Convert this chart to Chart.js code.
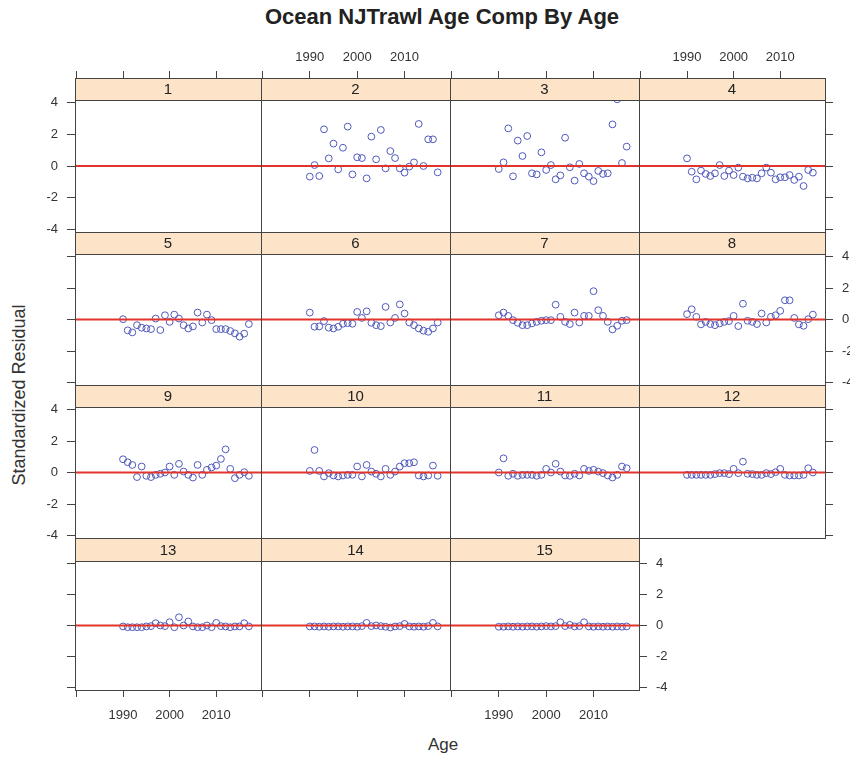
<!DOCTYPE html>
<html>
<head>
<meta charset="utf-8">
<script src="https://cdn.jsdelivr.net/npm/chart.js@4.4.1/dist/chart.umd.min.js"></script>
<style>
body{margin:0;background:#fff;}
#wrap{position:relative;width:850px;height:759px;overflow:hidden;font-family:"Liberation Sans",Arial,sans-serif;color:#222;}
#wrap canvas{position:absolute;left:0;top:0;}
#title{position:absolute;left:192px;width:500px;top:4px;text-align:center;font-weight:bold;font-size:22px;}
#ylab{position:absolute;left:19px;top:395px;transform:translate(-50%,-50%) rotate(-90deg);white-space:nowrap;font-size:18px;color:#333;}
#xlab{position:absolute;left:393px;width:100px;top:735px;text-align:center;font-size:17px;color:#333;}
</style>
</head>
<body>
<div id="wrap">
<div id="title">Ocean NJTrawl Age Comp By Age</div>
<div id="ylab">Standardized Residual</div>
<div id="xlab">Age</div>
</div>
<script>
// data
const years = [1990,1991,1992,1993,1994,1995,1996,1997,1998,1999,2000,2001,2002,2003,
2004,2005,2006,2007,2008,2009,2010,2011,2012,2013,2014,2015,2016,2017];

const ages = ['1','2','3','4','5','6','7','8','9','10','11','12','13','14','15'];

const resid1 = [];
const resid2 = [-0.67,0.06,-0.63,2.31,0.48,1.41,-0.21,1.15,2.48,-0.53,0.55,0.5,-0.78,1.85,0.42,2.27,-0.15,0.94,0.5,-0.15,-0.42,-0.04,0.23,2.65,0.0,1.68,1.68,-0.4];
const resid3 = [-0.19,0.23,2.37,-0.65,1.6,0.63,1.89,-0.46,-0.53,0.86,-0.25,0.06,-0.84,-0.59,1.78,-0.08,-0.92,0.13,-0.46,-0.67,-0.95,-0.31,-0.5,-0.46,2.62,4.2,0.19,1.22];
const resid4 = [0.48,-0.36,-0.84,-0.29,-0.5,-0.63,-0.46,0.06,-0.63,-0.29,-0.57,-0.1,-0.67,-0.78,-0.74,-0.78,-0.46,-0.1,-0.42,-0.84,-0.71,-0.71,-0.57,-0.88,-0.67,-1.26,-0.25,-0.42];
const resid5 = [0.02,-0.69,-0.82,-0.36,-0.52,-0.57,-0.61,0.06,-0.67,0.27,-0.15,0.31,0.06,-0.36,-0.57,-0.44,0.44,-0.19,0.31,-0.04,-0.61,-0.61,-0.61,-0.73,-0.88,-1.09,-0.9,-0.29];
const resid6 = [0.44,-0.46,-0.44,-0.1,-0.52,-0.57,-0.46,-0.27,-0.23,-0.27,0.48,0.1,0.52,-0.21,-0.36,-0.42,0.8,-0.19,0.1,0.96,0.38,-0.19,-0.36,-0.57,-0.71,-0.78,-0.57,-0.19];
const resid7 = [0.27,0.44,0.23,-0.04,-0.21,-0.36,-0.36,-0.25,-0.15,-0.08,-0.04,-0.04,0.94,0.17,-0.15,-0.29,0.44,-0.19,0.23,0.23,1.8,0.59,0.23,-0.15,-0.63,-0.4,-0.08,-0.04];
const resid8 = [0.34,0.65,0.17,-0.31,-0.15,-0.29,-0.36,-0.25,-0.15,-0.1,0.23,-0.42,1.0,-0.08,-0.15,-0.29,0.38,-0.19,0.17,0.27,0.55,1.22,1.22,0.1,-0.31,-0.4,0.02,0.31];
const resid9 = [0.84,0.65,0.48,-0.29,0.38,-0.21,-0.29,-0.15,-0.08,0.0,0.38,-0.15,0.55,0.06,-0.15,-0.32,0.48,-0.15,0.17,0.32,0.44,0.86,1.47,0.23,-0.36,-0.15,0.02,-0.21];
const resid10 = [0.1,1.43,0.1,-0.25,-0.04,-0.19,-0.25,-0.19,-0.15,-0.15,0.38,-0.25,0.48,0.06,-0.08,-0.25,0.23,-0.15,0.06,0.38,0.59,0.59,0.65,-0.19,-0.25,-0.19,0.44,-0.21];
const resid11 = [0.0,0.9,-0.21,-0.08,-0.21,-0.15,-0.15,-0.15,-0.21,-0.15,0.23,0.0,0.55,0.06,-0.19,-0.21,-0.08,-0.19,0.23,0.1,0.17,0.06,-0.04,-0.19,-0.32,-0.15,0.38,0.27];
const resid12 = [-0.15,-0.15,-0.15,-0.15,-0.15,-0.15,-0.1,-0.04,-0.04,-0.1,0.23,-0.04,0.69,-0.08,-0.1,-0.15,-0.15,-0.04,-0.1,0.02,0.23,-0.15,-0.19,-0.19,-0.19,-0.15,0.27,0.0];
const resid13 = [-0.06,-0.11,-0.11,-0.11,-0.11,-0.06,-0.04,0.15,0.0,-0.04,0.21,-0.11,0.53,0.0,0.26,-0.06,-0.11,-0.11,0.0,-0.11,0.17,-0.04,-0.06,-0.11,-0.06,-0.06,0.15,-0.06];
const resid14 = [-0.06,-0.06,-0.08,-0.06,-0.08,-0.06,-0.06,-0.08,-0.06,-0.06,-0.08,-0.04,0.17,-0.04,0.0,-0.04,-0.08,-0.13,-0.06,-0.04,0.1,-0.06,-0.08,-0.06,-0.08,-0.04,0.17,-0.06];
const resid15 = [-0.08,-0.08,-0.06,-0.08,-0.06,-0.08,-0.06,-0.06,-0.08,-0.06,-0.04,-0.06,-0.04,0.21,-0.04,0.04,-0.06,-0.04,0.21,-0.06,-0.08,-0.06,-0.08,-0.06,-0.08,-0.06,-0.08,-0.06];

const residuals = [resid1,resid2,resid3,resid4,resid5,resid6,resid7,resid8,
resid9,resid10,resid11,resid12,resid13,resid14,resid15];

const yTicks = [-4,-2,0,2,4];
const xTicks = [1980,1990,2000,2010];
const xTickLabels = [1990,2000,2010];

// layout of the lattice (pixels)
const pageW = 850, pageH = 759;
const colEdges = [75,261,450,639,825];
const rowTops = [78,232,385,538];
const stripHeights = [22,22,22,23];
const rowBottoms = [232,385,538,690];
const xMin = 1979.7, xMax = 2019.6;

Chart.defaults.font.family = '"Liberation Sans", Arial, sans-serif';
Chart.defaults.color = '#333';

const latticePlugin = {
id:'lattice',
afterDatasetsDraw(chart, args, opts){
const ctx = chart.ctx;
const a = chart.chartArea;
const sh = opts.stripH;
ctx.save();
ctx.fillStyle = '#fde3c8';
ctx.fillRect(a.left, a.top, a.right - a.left, sh);
ctx.strokeStyle = '#444';
ctx.lineWidth = 1;
ctx.strokeRect(a.left + 0.5, a.top + 0.5, a.right - a.left, sh);
ctx.strokeRect(a.left + 0.5, a.top + 0.5, a.right - a.left, a.bottom - a.top);
ctx.fillStyle = '#222';
ctx.font = '15px "Liberation Sans", Arial, sans-serif';
ctx.textAlign = 'center';
ctx.textBaseline = 'middle';
ctx.fillText(opts.label, (a.left + a.right) / 2, a.top + sh / 2 + 1);
ctx.restore();
}
};

function makePanel(i){

const col = i % 4;
const row = Math.floor(i / 4);
const x0 = colEdges[col], x1 = colEdges[col + 1];
const top = rowTops[row], bottom = rowBottoms[row];
const sh = stripHeights[row];
const panelH = bottom - top - sh;
const half = 4 * (panelH / 2) / (panelH / 2 - 2.5);
const yMax = half + sh * 2 * half / panelH;

const yLeft = col === 0;
const yRight = col === 3 || (row === 3 && col === 2);
const xTop = row === 0;
const xBottom = row === 3;
const rightW = col === 3 ? 25 : 40;

const canvas = document.createElement('canvas');
canvas.width = pageW;
canvas.height = pageH;
document.getElementById('wrap').appendChild(canvas);

const points = years.map((yr, k) => ({x: yr, y: residuals[i][k]})).filter(p => p.y !== undefined);

const xScale = {
type:'linear', min:xMin, max:xMax,
position: xTop ? 'top' : 'bottom',
display: xTop || xBottom,
afterBuildTicks: s => { s.ticks = xTicks.map(v => ({value: v})); },
ticks:{
display: xTop ? col % 2 === 1 : col % 2 === 0,
padding: xTop ? 6 : 11,
autoSkip:false, maxRotation:0,
font:{size:13}, color:'#333',
callback: v => xTickLabels.includes(v) ? String(v) : ''
},
grid:{drawOnChartArea:false, tickLength:7, color:'#444'},
border:{display:false}
};
if(xTop || xBottom) xScale.afterFit = s => { s.height = 40; };

const yScale = {
type:'linear', min:-half, max:yMax,
position: yRight ? 'right' : 'left',
display: yLeft || yRight,
afterBuildTicks: s => { s.ticks = yTicks.map(v => ({value: v})); },
ticks:{
display: yLeft ? row % 2 === 0 : row % 2 === 1,
padding: 9,
font:{size:13}, color:'#333',
callback: v => String(v)
},
grid:{drawOnChartArea:false, tickLength:8, color:'#444'},
border:{display:false}
};
if(yLeft) yScale.afterFit = s => { s.width = 30; };
if(yRight) yScale.afterFit = s => { s.width = rightW; };

new Chart(canvas,{
type:'scatter',
data:{
datasets:[
{
data:[{x:xMin, y:0},{x:xMax, y:0}],
showLine:true,
borderColor:'#e3342c',
borderWidth:2,
pointRadius:0,
order:0,
clip:0
},
{
data:points,
pointStyle:'circle',
pointRadius:3.4,
pointBorderWidth:1,
pointBackgroundColor:'rgba(0,0,0,0)',
pointBorderColor:'#4f59bb',
order:1,
clip:0
}
]
},
options:{
responsive:false,
animation:false,
events:[],
layout:{padding:{
left: x0 - (yLeft ? 30 : 0),
right: pageW - x1 - (yRight ? rightW : 0),
top: top - (xTop ? 40 : 0),
bottom: pageH - bottom - (xBottom ? 40 : 0)
}},
scales:{x:xScale, y:yScale},
plugins:{
legend:{display:false},
tooltip:{enabled:false},
lattice:{label:ages[i], stripH:sh}
}
},
plugins:[latticePlugin]
});

}

for(let i = 0; i < ages.length; i++){
makePanel(i);
}
</script>
</body>
</html>
